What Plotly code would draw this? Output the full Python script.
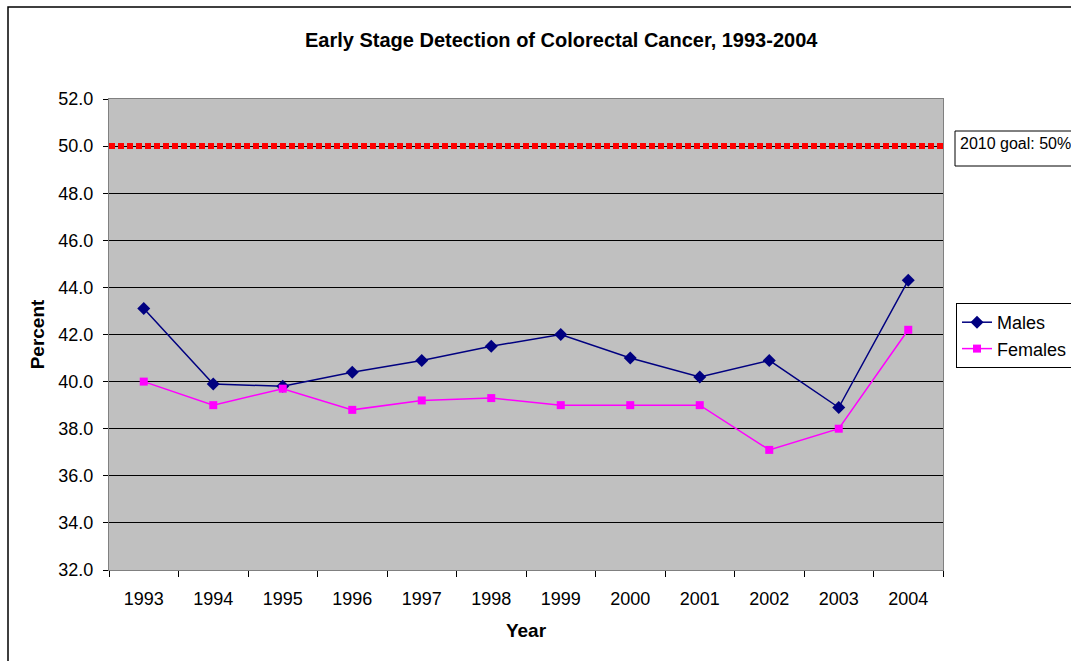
import plotly.graph_objects as go

years = ["1993", "1994", "1995", "1996", "1997", "1998", "1999", "2000", "2001", "2002", "2003", "2004"]
males = [43.1, 39.9, 39.8, 40.4, 40.9, 41.5, 42.0, 41.0, 40.2, 40.9, 38.9, 44.3]
females = [40.0, 39.0, 39.7, 38.8, 39.2, 39.3, 39.0, 39.0, 39.0, 37.1, 38.0, 42.2]
goal_value = 50.0
goal_label = "2010 goal: 50%"
y_ticks = [32, 34, 36, 38, 40, 42, 44, 46, 48, 50, 52]

FONT = "Liberation Sans, Arial, sans-serif"

FW, FH = 1071, 661
L, R, T, B = 109, 943, 99, 570
W = R - L
H = B - T


def px(xp):
    return (xp - L) / W


def py(yp):
    return (B - yp) / H


fig = go.Figure()
fig.add_trace(go.Scatter(
    x=years, y=males, name="Males", mode="lines+markers", legendgroup="m",
    line=dict(color="#000080", width=1.5),
    marker=dict(symbol="diamond", size=10, color="#000080"),
))
fig.add_trace(go.Scatter(
    x=years, y=females, name="Females", mode="lines+markers", legendgroup="f",
    line=dict(color="#FF00FF", width=1.5),
    marker=dict(symbol="square", size=8, color="#FF00FF"),
))

# goal line
fig.add_shape(type="line", xref="paper", yref="y", x0=0, x1=1, y0=goal_value, y1=goal_value,
              line=dict(color="#FF0000", width=6, dash="6px,3px"))

# outer chart border
fig.add_shape(type="rect", xref="paper", yref="paper",
              x0=px(8), x1=px(1090), y0=py(690), y1=py(7),
              line=dict(color="black", width=1.5), fillcolor="rgba(0,0,0,0)", layer="below")

# goal label box
fig.add_shape(type="rect", xref="paper", yref="paper",
              x0=px(955), x1=px(1100), y0=py(166), y1=py(131),
              line=dict(color="black", width=1), fillcolor="white")
fig.add_annotation(xref="paper", yref="paper", x=px(958), y=py(133), xanchor="left", yanchor="top",
                   text=goal_label, showarrow=False, font=dict(family=FONT, size=16, color="black"))

fig.update_layout(
    width=FW, height=FH,
    margin=dict(l=L, r=FW - R, t=T, b=FH - B, autoexpand=False),
    paper_bgcolor="white", plot_bgcolor="#C0C0C0",
    font=dict(family=FONT, size=18, color="black"),
    title=dict(text="<b>Early Stage Detection of Colorectal Cancer, 1993-2004</b>",
               x=px(546), xanchor="center", y=1 - 40 / FH, yanchor="middle",
               font=dict(family=FONT, size=20, color="black")),
    showlegend=True,
    legend=dict(x=px(956), y=py(303), xanchor="left", yanchor="top",
                bordercolor="black", borderwidth=1, bgcolor="white",
                font=dict(family=FONT, size=18), tracegroupgap=4,
                traceorder="normal"),
    xaxis=dict(
        type="category", range=[-0.5, len(years) - 0.5],
        tickson="boundaries", ticks="outside", ticklen=6, tickcolor="black",
        ticklabelstandoff=12,
        showgrid=False, showline=True, linecolor="#808080", linewidth=1, mirror=True,
        tickfont=dict(family=FONT, size=18),
        title=dict(text="<b>Year</b>", font=dict(family=FONT, size=19), standoff=16),
    ),
    yaxis=dict(
        range=[32, 52], tickvals=y_ticks, ticktext=[f"{v:.1f}" for v in y_ticks],
        ticks="outside", ticklen=5, tickcolor="black", ticklabelstandoff=6,
        showgrid=True, gridcolor="black", gridwidth=1,
        showline=True, linecolor="#808080", linewidth=1, mirror=True, zeroline=False,
        tickfont=dict(family=FONT, size=18),
        title=dict(text="<b>Percent</b>", font=dict(family=FONT, size=19), standoff=8),
    ),
)

fig.write_html("out.html", config={"displayModeBar": False},
               post_script="document.body.style.margin='0';document.body.style.overflow='hidden';")
